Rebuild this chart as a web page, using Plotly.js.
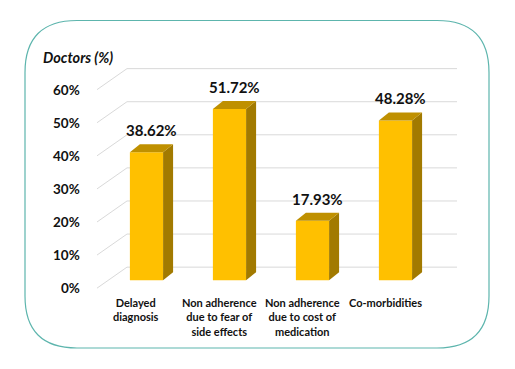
<!DOCTYPE html>
<html>
<head>
<meta charset="utf-8">
<script src="https://cdn.plot.ly/plotly-3.0.1.min.js"></script>
<style>html,body{margin:0;padding:0;background:#fff;}#chart{width:515px;height:369px;}</style>
</head>
<body>
<div id="chart"></div>
<script>
var categories = ["Delayed<br>diagnosis", "Non adherence<br>due to fear of<br>side effects", "Non adherence<br>due to cost of<br>medication", "Co-morbidities"];
var values = [38.62, 51.72, 17.93, 48.28];
var valueLabels = ["38.62%", "51.72%", "17.93%", "48.28%"];
var tickValues = [0, 10, 20, 30, 40, 50, 60];
var tickLabels = ["0%", "10%", "20%", "30%", "40%", "50%", "60%"];

// layout geometry
var W = 515, H = 369;
var M = {l: 20, r: 15, t: 32, b: 69};
var plotW = W - M.l - M.r, plotH = H - M.t - M.b;
var xRange = [-1.524, -1.524 + plotW / 83];
var yRange = [-6, 75];
var pxX = plotW / (xRange[1] - xRange[0]);   // px per x unit
var pxY = plotH / (yRange[1] - yRange[0]);   // px per y unit
function ux(px) { return px / pxX; }
function uy(px) { return px / pxY; }

var barW = 0.4;
var sideDx = ux(10), sideDy = uy(8);
var frontDy = uy(8), backDy = uy(13);
var frontLeftX = -0.596, backLeftX = -0.235, backRightX = 3.741;

var front = "#FFC000", side = "#A27A00", top_ = "#BF9000";
var xs = categories.map(function (c, i) { return i; });

var traces = [{
  type: "bar", x: xs, y: values, width: barW,
  marker: {color: front, line: {width: 0}},
  hoverinfo: "skip", showlegend: false
}];
xs.forEach(function (x, i) {
  var v = values[i], r = x + barW / 2, l = x - barW / 2;
  traces.push({
    type: "scatter", mode: "lines", fill: "toself", fillcolor: side,
    line: {width: 0, color: side}, hoverinfo: "skip", showlegend: false,
    x: [r, r + sideDx, r + sideDx, r, r], y: [0, sideDy, v + sideDy, v, 0]
  });
  traces.push({
    type: "scatter", mode: "lines", fill: "toself", fillcolor: top_,
    line: {width: 0, color: top_}, hoverinfo: "skip", showlegend: false,
    x: [l, r, r + sideDx, l + sideDx, l], y: [v, v, v + sideDy, v + sideDy, v]
  });
});

var shapes = [];
tickValues.forEach(function (v) {
  shapes.push({type: "line", layer: "below", xref: "x", yref: "y",
    x0: backLeftX, x1: backRightX, y0: v + backDy, y1: v + backDy,
    line: {color: "#D9D9D9", width: 1}});
  shapes.push({type: "line", layer: "below", xref: "x", yref: "y",
    x0: frontLeftX, x1: backLeftX, y0: v - frontDy, y1: v + backDy,
    line: {color: "#D9D9D9", width: 1}});
});
// rounded frame (paper coordinates)
(function () {
  var x0 = (25 - M.l) / plotW, x1 = (489 - M.l) / plotW;
  var y1 = (H - M.b - 20.5) / plotH, y0 = (H - M.b - 348) / plotH;
  var rx = 52 / plotW, ry = 52 / plotH;
  var p = "M" + (x0 + rx) + "," + y1 + " L" + (x1 - rx) + "," + y1 +
    " Q" + x1 + "," + y1 + " " + x1 + "," + (y1 - ry) +
    " L" + x1 + "," + (y0 + ry) +
    " Q" + x1 + "," + y0 + " " + (x1 - rx) + "," + y0 +
    " L" + (x0 + rx) + "," + y0 +
    " Q" + x0 + "," + y0 + " " + x0 + "," + (y0 + ry) +
    " L" + x0 + "," + (y1 - ry) +
    " Q" + x0 + "," + y1 + " " + (x0 + rx) + "," + y1 + " Z";
  shapes.push({type: "path", xref: "paper", yref: "paper", path: p, layer: "below",
    line: {color: "#5DB5AD", width: 1.2}});
})();

var FONT = "Lato, 'Open Sans', sans-serif";
var annotations = [];
tickValues.forEach(function (v, i) {
  annotations.push({xref: "x", yref: "y", x: frontLeftX - ux(15), y: v - frontDy,
    text: "<b>" + tickLabels[i] + "</b>", showarrow: false, xanchor: "right", yanchor: "middle",
    font: {family: FONT, size: 13.5, color: "#111"}});
});
xs.forEach(function (x, i) {
  annotations.push({xref: "x", yref: "y", x: x + sideDx / 2, y: values[i] + sideDy + uy(3),
    text: "<b>" + valueLabels[i] + "</b>", showarrow: false, xanchor: "center", yanchor: "bottom",
    font: {family: FONT, size: 15, color: "#111"}});
  annotations.push({xref: "x", yref: "y", x: x - ux(10), y: -frontDy - uy(6),
    text: "<b>" + categories[i] + "</b>", showarrow: false, xanchor: "center", yanchor: "top",
    align: "center", font: {family: FONT, size: 11, color: "#111"}});
});
annotations.push({xref: "paper", yref: "paper", x: (41 - M.l) / plotW, y: (H - M.b - 58) / plotH,
  text: "<b><i>Doctors (%)</i></b>", showarrow: false, xanchor: "left", yanchor: "middle",
  font: {family: FONT, size: 14.5, color: "#111"}});

var layout = {
  width: W, height: H, margin: M,
  paper_bgcolor: "#fff", plot_bgcolor: "rgba(0,0,0,0)",
  xaxis: {range: xRange, visible: false, fixedrange: true},
  yaxis: {range: yRange, visible: false, fixedrange: true},
  shapes: shapes, annotations: annotations, showlegend: false
};
Plotly.newPlot("chart", traces, layout, {staticPlot: true, displayModeBar: false});
</script>
</body>
</html>
